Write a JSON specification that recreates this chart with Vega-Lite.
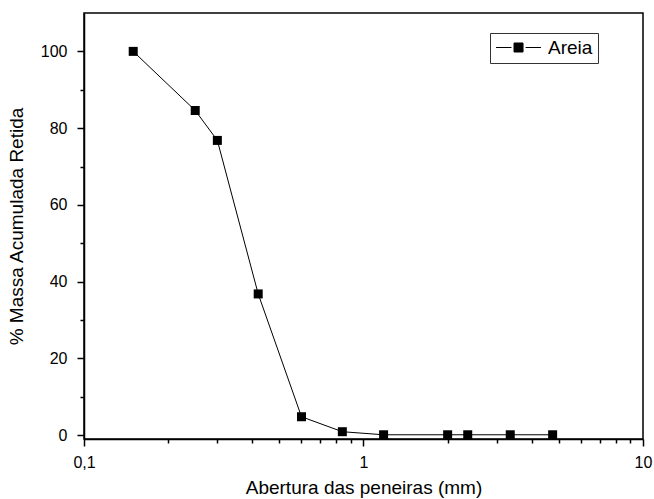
{
  "$schema": "https://vega.github.io/schema/vega-lite/v6.json",
  "width": 559,
  "height": 426,
  "autosize": "none",
  "padding": {"left": 84, "top": 13, "right": 11, "bottom": 60},
  "background": "white",
  "config": {
    "font": "Liberation Sans",
    "view": {"stroke": "black", "strokeWidth": 1.5},
    "axis": {
      "domainColor": "black", "domainWidth": 1.5, "tickColor": "black", "tickWidth": 1.5,
      "labelColor": "black", "titleColor": "black", "labelFontSize": 16, "titleFontSize": 19,
      "titleFontWeight": "normal", "grid": false, "labelOverlap": false, "labelFlush": false, "labelBound": false
    }
  },
  "data": {"values": [
    {"x": 0.15, "y": 100, "s": "Areia"},
    {"x": 0.25, "y": 84.6, "s": "Areia"},
    {"x": 0.3, "y": 76.8, "s": "Areia"},
    {"x": 0.42, "y": 36.8, "s": "Areia"},
    {"x": 0.6, "y": 4.8, "s": "Areia"},
    {"x": 0.84, "y": 0.9, "s": "Areia"},
    {"x": 1.18, "y": 0.1, "s": "Areia"},
    {"x": 2.0, "y": 0.1, "s": "Areia"},
    {"x": 2.36, "y": 0.1, "s": "Areia"},
    {"x": 3.35, "y": 0.1, "s": "Areia"},
    {"x": 4.75, "y": 0.1, "s": "Areia"}
  ]},
  "encoding": {
    "x": {"field": "x", "type": "quantitative",
      "scale": {"type": "log", "domain": [0.1, 10], "nice": false},
      "axis": {
        "title": "Abertura das peneiras (mm)",
        "values": [0.1,0.2,0.3,0.4,0.5,0.6,0.7,0.8,0.9,1,2,3,4,5,6,7,8,9,10],
        "labelExpr": "datum.value == 0.1 ? '0,1' : datum.value == 1 ? '1' : datum.value == 10 ? '10' : ''",
        "tickSize": {"condition": {"test": "datum.value == 0.1 || datum.value == 1 || datum.value == 10", "value": 7}, "value": 4},
        "labelPadding": 8,
        "titlePadding": 8
      }},
    "y": {"field": "y", "type": "quantitative",
      "scale": {"domain": [-1, 110], "nice": false, "zero": false},
      "axis": {
        "title": "% Massa Acumulada Retida",
        "values": [0,10,20,30,40,50,60,70,80,90,100],
        "labelExpr": "datum.value % 20 == 0 ? datum.label : ''",
        "tickSize": {"condition": {"test": "datum.value % 20 == 0", "value": 7}, "value": 4},
        "labelPadding": 10,
        "titlePadding": 14
      }},
    "color": {"field": "s", "type": "nominal", "scale": {"range": ["black"]},
      "legend": {
        "title": null, "orient": "none", "legendX": 406, "legendY": 20,
        "strokeColor": "#333", "padding": 5, "cornerRadius": 0,
        "labelFontSize": 19, "labelColor": "black", "labelOffset": 34,
        "symbolType": "M-1,0L0.82,0M2.48,0L4.29,0M1.12,-0.53H2.18V0.53H1.12Z",
        "symbolSize": 289, "symbolStrokeWidth": 1, "symbolStrokeColor": "black", "symbolFillColor": "black"
      }}
  },
  "layer": [
    {"mark": {"type": "line", "strokeWidth": 1, "color": "black"}},
    {"mark": {"type": "point", "shape": "square", "filled": true, "size": 81, "opacity": 1, "color": "black"}}
  ]
}
